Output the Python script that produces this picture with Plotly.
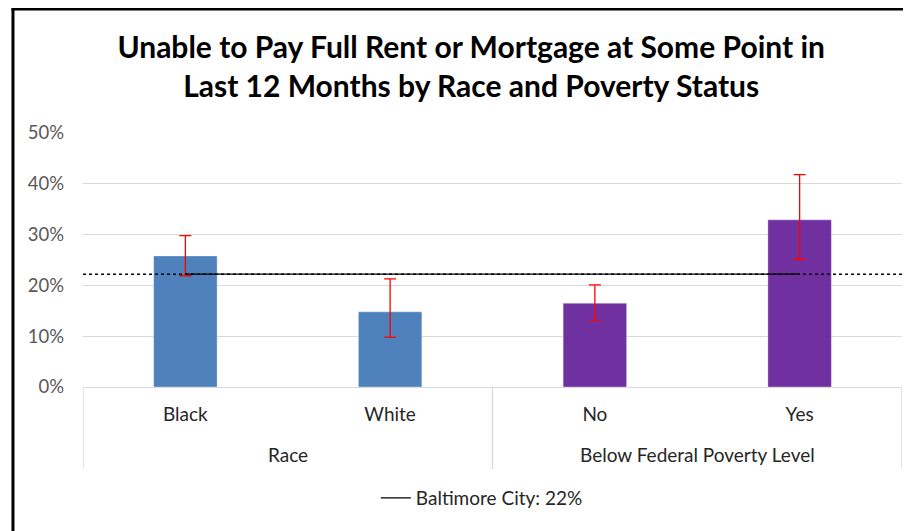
import plotly.graph_objects as go

categories = ["Black", "White", "No", "Yes"]
groups = ["Race", "Below Federal Poverty Level"]
values = [25.8, 14.8, 16.5, 32.9]
err_upper = [29.8, 21.3, 20.1, 41.8]
err_lower = [21.9, 9.8, 13.1, 25.1]
bar_colors = ["#4F81BD", "#4F81BD", "#7030A0", "#7030A0"]
baltimore = 22.2
y_ticks = [0, 10, 20, 30, 40, 50]
y_ticklabels = ["0%", "10%", "20%", "30%", "40%", "50%"]

FONT = "Lato"

fig = go.Figure()
fig.add_trace(go.Bar(
    x=categories, y=values, width=0.31,
    marker=dict(color=bar_colors, line=dict(color="rgba(255,255,255,0.35)", width=1)),
    error_y=dict(type="data", symmetric=False,
                 array=[u - v for u, v in zip(err_upper, values)],
                 arrayminus=[v - l for v, l in zip(values, err_lower)],
                 color="#FF0000", thickness=1.3, width=6),
    showlegend=False, hoverinfo="skip",
))
fig.add_trace(go.Scatter(
    x=categories, y=[baltimore] * len(categories), mode="lines",
    line=dict(color="#000000", width=1.3),
    name="Baltimore City: 22%",
))

# dotted reference across full width
fig.add_shape(type="line", xref="paper", yref="y", x0=0, x1=1, y0=baltimore, y1=baltimore,
              line=dict(color="#000000", width=1.5, dash="dot"))

# dividers of category groups
for xd in [-0.5, 1.5, 3.5]:
    fig.add_shape(type="line", xref="x", yref="paper", x0=xd, x1=xd, y0=0, y1=-0.323,
                  line=dict(color="#D9D9D9", width=1.3))

# group labels
for gx, gname in zip([0.5, 2.5], groups):
    fig.add_annotation(x=gx, xref="x", y=-0.264, yref="paper", text=gname, showarrow=False,
                       font=dict(family=FONT, size=19, color="#262626"), yanchor="middle")

# outer border (chart area edge)
fig.add_shape(type="line", xref="paper", yref="paper", x0=-0.0855, x1=-0.0855, y0=1.488, y1=-0.7,
              line=dict(color="#000000", width=3))
fig.add_shape(type="line", xref="paper", yref="paper", x0=-0.0875, x1=1.05, y0=1.488, y1=1.488,
              line=dict(color="#000000", width=3))

fig.update_layout(
    width=911, height=531,
    margin=dict(l=75, r=17, t=125, b=152, autoexpand=False),
    paper_bgcolor="white", plot_bgcolor="white",
    title=dict(text="<b>Unable to Pay Full Rent or Mortgage at Some Point in<br>Last 12 Months by Race and Poverty Status</b>",
               x=0.474, xref="paper", xanchor="center", y=0.906, yanchor="middle",
               font=dict(family=FONT, size=30, color="#000000")),
    font=dict(family=FONT, color="#404040"),
    showlegend=True,
    legend=dict(orientation="h", x=0.487, xanchor="center", y=-0.437, yanchor="middle",
                font=dict(family=FONT, size=19, color="#262626"), bgcolor="rgba(0,0,0,0)"),
    xaxis=dict(type="category", range=[-0.5, 3.5], showgrid=False, showline=True,
               linecolor="#D9D9D9", linewidth=1.3, ticks="",
               tickfont=dict(family=FONT, size=19, color="#262626"), ticklabelstandoff=10),
    yaxis=dict(range=[0, 50], tickvals=y_ticks, ticktext=y_ticklabels, showgrid=True,
               gridcolor="#D9D9D9", gridwidth=1, zeroline=False, showline=False,
               tickfont=dict(family=FONT, size=18.5, color="#595959"), ticklabelstandoff=18),
)

fig.write_html("out.html")
